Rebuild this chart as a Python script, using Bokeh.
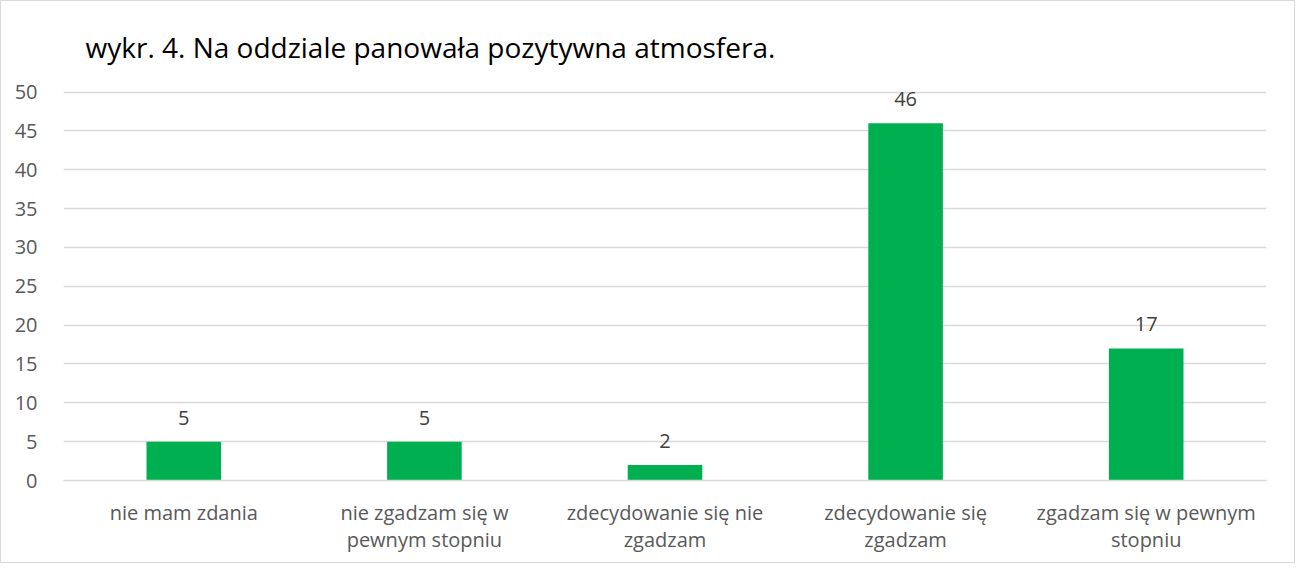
from bokeh.plotting import figure
from bokeh.models import ColumnDataSource, LabelSet, Label, Range1d, FixedTicker
from bokeh.core.properties import value
from bokeh.embed import file_html
from bokeh.resources import INLINE

categories = ["nie mam zdania", "nie zgadzam się w\npewnym stopniu", "zdecydowanie się nie\nzgadzam",
              "zdecydowanie się\nzgadzam", "zgadzam się w pewnym\nstopniu"]
values = [5, 5, 2, 46, 17]
y_ticks = [0, 5, 10, 15, 20, 25, 30, 35, 40, 45, 50]
title_text = "wykr. 4. Na oddziale panowała pozytywna atmosfera."

FONT = "Open Sans"

src = ColumnDataSource(dict(cat=categories, val=values, lab=[str(v) for v in values]))

# frame extends above 50 so the title can sit inside it; 7.8 px per unit
TOP_PAD = 10
y_max = 50 + (91 - TOP_PAD) / 7.8

p = figure(x_range=categories, y_range=Range1d(0, y_max), width=1295, height=563,
           output_backend="svg", toolbar_location=None,
           min_border_left=62, min_border_right=30, min_border_top=TOP_PAD, min_border_bottom=84)
p.styles = {"border": "1px solid #d9d9d9", "box-sizing": "border-box"}

p.vbar(x="cat", top="val", width=0.31, source=src, color="#00B050", line_color=None)

labels = LabelSet(x="cat", y="val", text="lab", source=src, text_align="center",
                  text_baseline="middle", y_offset=24, text_font=value(FONT),
                  text_font_size="20px", text_color="#404040")
p.add_layout(labels)

title = Label(x=22, y=50 + (91 - 46) / 7.8, x_units="screen", y_units="data", text=title_text,
              text_font=FONT, text_font_size="28px", text_color="#000000",
              text_baseline="middle", text_align="left")
p.add_layout(title)

p.outline_line_color = None
p.xgrid.grid_line_color = None
p.ygrid.grid_line_color = "#d9d9d9"
p.ygrid.grid_line_width = 1.5
p.yaxis.ticker = FixedTicker(ticks=y_ticks)

for ax in (p.xaxis, p.yaxis):
    ax.major_tick_line_color = None
    ax.minor_tick_line_color = None
    ax.major_label_text_font = FONT
    ax.major_label_text_font_size = "20px"
    ax.major_label_text_color = "#595959"
p.yaxis.axis_line_color = None
p.xaxis.axis_line_color = "#d9d9d9"
p.xaxis.axis_line_width = 1.5
p.yaxis.major_label_standoff = 20
p.xaxis.major_label_standoff = 12
p.xaxis.major_label_text_line_height = 1.0

open("out.html", "w").write(file_html(p, INLINE))
